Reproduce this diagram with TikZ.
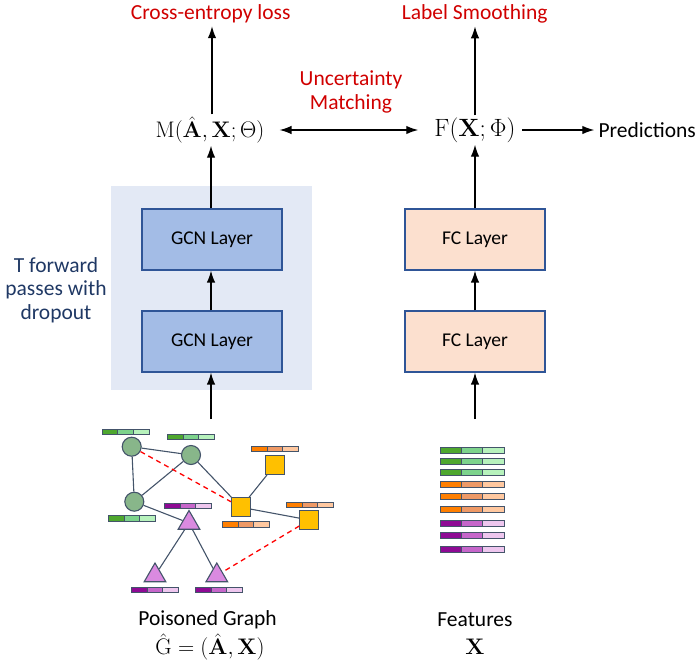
\documentclass[tikz,border=0pt]{standalone}
\usepackage{fix-cm}
\usepackage{amsmath}
\usepackage[no-math]{fontspec}
\setmainfont{Carlito}
\usetikzlibrary{arrows.meta,shapes.geometric}
\definecolor{gcnfill}{HTML}{A3BCE6}
\definecolor{boxedge}{HTML}{2F5597}
\definecolor{fcfill}{HTML}{FCE0CF}
\definecolor{shadebg}{HTML}{E3E9F5}
\definecolor{navytxt}{HTML}{1F3864}
\definecolor{redtxt}{HTML}{D00000}
\definecolor{slate}{HTML}{44546A}
\definecolor{cfill}{HTML}{88B68A}
\definecolor{sqfill}{HTML}{FFC000}
\definecolor{trifill}{HTML}{DA8AE0}
\definecolor{gA}{HTML}{4EA72E}\definecolor{gB}{HTML}{7DD38C}\definecolor{gC}{HTML}{B7F2BC}
\definecolor{oA}{HTML}{FF7F00}\definecolor{oB}{HTML}{EE9966}\definecolor{oC}{HTML}{FFC8A0}
\definecolor{pA}{HTML}{8E0A94}\definecolor{pB}{HTML}{C666CA}\definecolor{pC}{HTML}{EEC6EE}
\newcommand\featbar[7]{%
  \pgfmathsetmacro\fw{#3/3}%
  \fill[#5,draw=slate,line width=0.7pt] ({#1-#3/2},{#2-#4/2}) rectangle ++(\fw,#4);
  \fill[#6,draw=slate,line width=0.7pt] ({#1-#3/2+\fw},{#2-#4/2}) rectangle ++(\fw,#4);
  \fill[#7,draw=slate,line width=0.7pt] ({#1-#3/2+2*\fw},{#2-#4/2}) rectangle ++(\fw,#4);
}
\tikzset{
  lbl/.style={font=\fontsize{21.5}{23.5}\selectfont},
  boxlbl/.style={font=\fontsize{19.5}{22}\selectfont},
  mth/.style={font=\fontsize{22.5}{26}\selectfont,inner sep=2pt},
  redlbl/.style={lbl,text=redtxt},
  layerbox/.style={draw=boxedge,line width=1.2pt,minimum width=140pt,minimum height=61pt,boxlbl},
  gcnbox/.style={layerbox,fill=gcnfill},
  fcbox/.style={layerbox,fill=fcfill},
  arr/.style={-{Latex[length=12pt,width=8.5pt]},line width=1.3pt},
  darr/.style={{Latex[length=12pt,width=8.5pt]}-{Latex[length=12pt,width=8.5pt]},line width=1.3pt},
  gnode/.style={draw=slate,line width=1.1pt,inner sep=0pt},
  gcirc/.style={gnode,circle,fill=cfill,minimum size=19pt},
  gsq/.style={gnode,rectangle,fill=sqfill,minimum size=19pt},
  gtri/.style={gnode,regular polygon,regular polygon sides=3,fill=trifill,minimum size=25pt},
  gedge/.style={draw=slate,line width=1.1pt},
  redge/.style={draw=red,dash pattern=on 5pt off 4pt,line width=1.3pt},
}
\begin{document}
\begin{tikzpicture}[x=1pt,y=-1pt]
\useasboundingbox (0,0) rectangle (696,667);
% shaded dropout region
\node[fill=shadebg,minimum width=201pt,minimum height=204pt,inner sep=0pt] (drop) at (211.5,288) {};
% layers
\node[gcnbox] (g1) at (212,239.5) {GCN Layer};
\node[gcnbox] (g2) at (212,341.5) {GCN Layer};
\node[fcbox] (f1) at (475,239.5) {FC Layer};
\node[fcbox] (f2) at (475,341.5) {FC Layer};
% top
\node[mth] (M) at (210,130) {$\mathrm{M}(\hat{\mathbf{A}},\mathbf{X};\Theta)$};
\node[mth,font=\fontsize{25}{28}\selectfont] (F) at (475,130) {$\mathrm{F}(\mathbf{X};\Phi)$};
\node[lbl,anchor=west,inner sep=1pt] (pred) at (597.3,130) {Predictions};
\node[redlbl] (ce) at (210.7,13.5) {Cross-entropy loss};
\node[redlbl] (ls) at (474.7,13.5) {Label Smoothing};
\node[redlbl,align=center] (um) at (351,92) {Uncertainty\\Matching};
\node[lbl,text=navytxt,align=center] (tf) at (56,290) {T forward\\passes with\\dropout};
% bottom labels
\node[lbl] (pg) at (207.5,619.5) {Poisoned Graph};
\node[mth] (pgm) at (210,647) {$\hat{\mathrm{G}}=(\hat{\mathbf{A}},\mathbf{X})$};
\node[lbl] (fe) at (475,619.5) {Features};
\node[mth] (fx) at (475,647) {$\mathbf{X}$};
\coordinate (gtop) at (211,419);
\coordinate (ftop) at (475,419);
% arrows
\draw[arr] (M.north -| 212,0) -- (ce.south -| 212,0);
\draw[arr] (F.north) -- (ls.south -| 475,0);
\draw[darr,shorten <=13pt,shorten >=14pt] (M.east) -- (F.west);
\draw[arr,shorten <=4.5pt,shorten >=3pt] (F.east) -- (pred.west);
\draw[arr] (g1.north -| 211,0) -- (M.south -| 211,0);
\draw[arr] (g2.north -| 211,0) -- (g1.south -| 211,0);
\draw[arr] (gtop) -- (g2.south -| 211,0);
\draw[arr] (f1.north) -- (F.south);
\draw[arr] (f2.north) -- (f1.south);
\draw[arr] (ftop) -- (f2.south);
% graph
\node[gcirc] (A) at (131.7,446.7) {};
\node[gcirc] (B) at (191,455) {};
\node[gcirc] (C) at (134.3,501.7) {};
\node[gsq] (sD) at (275,465) {};
\node[gsq] (sE) at (241,507.3) {};
\node[gsq] (sF) at (309.3,520) {};
\node[gtri] (T1) at (189,523) {};
\node[gtri] (T2) at (155,575.5) {};
\node[gtri] (T3) at (216.8,575.5) {};
\draw[gedge] (A) -- (B);
\draw[gedge] (A) -- (C);
\draw[gedge] (B) -- (C);
\draw[gedge] (B) -- (sE);
\draw[gedge] (C) -- (T1);
\draw[gedge] (sE) -- (sD);
\draw[gedge] (sE) -- (sF);
\draw[gedge] (T1) -- (T2);
\draw[gedge] (T1) -- (T3);
\draw[redge] (A) -- (sE);
\draw[redge] (sF) -- (T3);
% graph feature bars
\featbar{125.5}{431.7}{47}{5.5}{gA}{gB}{gC}
\featbar{190.8}{436.7}{47}{5.5}{gA}{gB}{gC}
\featbar{131.8}{518.3}{47}{5.5}{gA}{gB}{gC}
\featbar{275}{449}{47}{5.5}{oA}{oB}{oC}
\featbar{187.7}{506}{47}{5.5}{pA}{pB}{pC}
\featbar{245.7}{524.3}{47}{5.5}{oA}{oB}{oC}
\featbar{309.7}{505}{47}{5.5}{oA}{oB}{oC}
\featbar{154.7}{590}{47}{5.5}{pA}{pB}{pC}
\featbar{218.7}{590}{47}{5.5}{pA}{pB}{pC}
% feature matrix
\foreach \yy in {450,461.3,472.6}{\featbar{472}{\yy}{64}{6}{gA}{gB}{gC}}
\foreach \yy in {484.5,496.7,509.2}{\featbar{472}{\yy}{64}{6}{oA}{oB}{oC}}
\foreach \yy in {523.2,535.5,549}{\featbar{472}{\yy}{64}{6}{pA}{pB}{pC}}
\end{tikzpicture}
\end{document}
